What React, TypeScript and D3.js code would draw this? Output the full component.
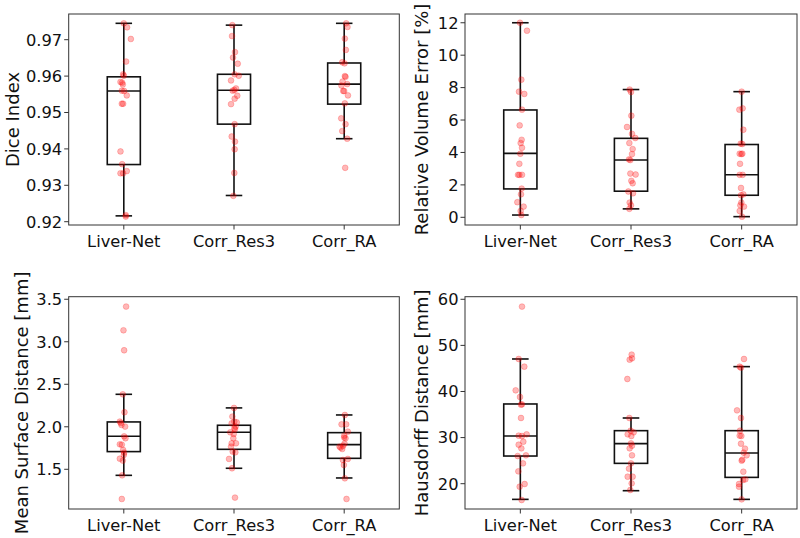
import React from "react";
import * as d3 from "d3";

const categories = ["Liver-Net", "Corr_Res3", "Corr_RA"];

// ---- Dice Index ----
const diceLiverNet = [0.9745, 0.9734, 0.9702, 0.964, 0.9605, 0.9601, 0.9584, 0.9582, 0.9577, 0.956, 0.9559, 0.9547, 0.9524, 0.9524, 0.9393, 0.9358, 0.9333, 0.9333, 0.9339, 0.9218, 0.9214];
const diceLiverNetJit = [0, 0.03, 0.064, 0.021, -0.006, 0, -0.03, -0.015, -0.009, -0.018, 0.003, 0.027, -0.018, -0.006, -0.03, -0.015, -0.03, -0.006, 0.027, 0.018, 0.018];
const diceRes3 = [0.974, 0.971, 0.9666, 0.9651, 0.9634, 0.9605, 0.9601, 0.9588, 0.9566, 0.9562, 0.956, 0.9546, 0.9538, 0.9523, 0.9468, 0.9434, 0.942, 0.9399, 0.9334, 0.9271];
const diceRes3Jit = [-0.015, -0.018, 0.009, -0.009, 0.034, 0.006, 0.043, -0.027, 0.018, 0.003, -0.012, 0.03, 0.006, -0.027, 0.006, -0.021, 0.009, 0.006, 0.003, -0.006];
const diceRA = [0.9745, 0.9735, 0.9703, 0.9672, 0.9638, 0.9635, 0.96, 0.9598, 0.9585, 0.9578, 0.9574, 0.9559, 0.9559, 0.9547, 0.9525, 0.9484, 0.9468, 0.9449, 0.9428, 0.9348];
const diceRAJit = [0.018, 0.03, 0.006, 0.015, -0.018, 0.003, 0.006, 0.012, -0.015, 0.027, -0.025, -0.009, 0, 0.034, 0.006, -0.027, 0.012, -0.018, 0.027, 0.009];
// box stats: [lower whisker, q1, median, q3, upper whisker]
const diceBoxes = [
  [0.9216, 0.9357, 0.9559, 0.9598, 0.9745],
  [0.9272, 0.9468, 0.9561, 0.9605, 0.974],
  [0.9428, 0.9523, 0.9578, 0.9636, 0.9745],
];
const diceTicks = [0.92, 0.93, 0.94, 0.95, 0.96, 0.97];

// ---- Relative Volume Error ----
const rveLiverNet = [12.0, 11.51, 8.49, 7.75, 7.61, 6.64, 5.67, 4.78, 4.58, 4.29, 3.92, 3.3, 2.62, 2.62, 2.62, 1.77, 1.42, 0.93, 0.66, 0.39, 0.14];
const rveLiverNetJit = [-0.003, 0.06, 0.009, -0.012, 0.036, 0.015, -0.006, 0.012, 0.003, 0.015, 0, -0.009, -0.021, -0.009, 0.015, 0.012, 0.006, -0.027, 0.03, 0.003, 0.009];
const rveRes3 = [7.88, 7.73, 6.27, 5.57, 5.15, 4.89, 4.58, 4.21, 3.9, 3.57, 3.53, 2.7, 2.64, 2.25, 2.1, 1.59, 1.48, 0.91, 0.74, 0.52];
const rveRes3Jit = [-0.012, 0, 0.003, -0.036, 0.009, 0.039, -0.015, 0.015, 0.009, -0.018, -0.006, -0.006, 0.042, 0.003, 0.015, -0.024, 0.018, -0.012, 0, -0.015];
const rveRA = [7.75, 6.64, 6.72, 5.4, 4.54, 4.52, 3.92, 3.92, 3.9, 3.3, 2.62, 2.62, 1.81, 1.42, 1.36, 0.91, 0.74, 0.66, 0.39, 0.04];
const rveRAJit = [0, -0.021, 0.009, 0.015, -0.009, 0.006, -0.018, 0.006, -0.003, -0.015, -0.018, 0.009, -0.006, 0.015, -0.006, -0.003, -0.012, 0.021, -0.018, 0.003];
const rveBoxes = [
  [0.14, 1.75, 3.94, 6.62, 12.0],
  [0.52, 1.61, 3.53, 4.87, 7.88],
  [0.04, 1.36, 2.62, 4.49, 7.75],
];
const rveTicks = [0, 2, 4, 6, 8, 10, 12];

// ---- Mean Surface Distance ----
const msdLiverNet = [3.414, 3.135, 2.9, 2.382, 2.171, 2.061, 2.045, 2.022, 2.002, 1.888, 1.865, 1.794, 1.79, 1.727, 1.696, 1.669, 1.625, 1.602, 1.429, 1.151];
const msdLiverNetJit = [0.021, -0.003, 0.003, -0.009, 0.006, -0.036, -0.027, -0.021, 0.012, 0.003, 0.015, -0.036, -0.018, -0.006, 0.003, 0, -0.036, -0.009, -0.015, -0.018];
const msdRes3 = [2.222, 2.12, 2.061, 2.053, 2.041, 2.002, 1.982, 1.971, 1.935, 1.916, 1.865, 1.806, 1.806, 1.767, 1.708, 1.7, 1.622, 1.512, 1.167];
const msdRes3Jit = [0, -0.015, 0.003, 0.025, -0.021, 0.015, 0.003, 0.009, -0.034, -0.003, -0.006, -0.021, 0.018, -0.027, -0.012, 0.012, -0.045, -0.018, 0.009];
const msdRA = [2.139, 2.029, 2.029, 1.943, 1.896, 1.873, 1.865, 1.802, 1.778, 1.767, 1.755, 1.739, 1.622, 1.61, 1.551, 1.394, 1.151];
const msdRAJit = [0.006, -0.024, 0.018, 0.033, 0, 0, 0.012, 0.003, -0.009, -0.042, -0.033, -0.018, 0.033, -0.012, -0.003, 0.006, 0.021];
const msdBoxes = [
  [1.429, 1.708, 1.888, 2.057, 2.382],
  [1.512, 1.735, 1.935, 2.018, 2.222],
  [1.398, 1.629, 1.79, 1.931, 2.139],
];
const msdTicks = [1.5, 2.0, 2.5, 3.0, 3.5];

// ---- Hausdorff Distance ----
const hdLiverNet = [58.41, 47.05, 45.39, 40.25, 38.81, 37.14, 37.21, 34.25, 30.42, 30.71, 30.34, 28.46, 29.11, 27.67, 26.15, 26.0, 24.41, 22.68, 19.93, 19.35, 16.46];
const hdLiverNetJit = [0.015, -0.015, 0.036, -0.042, -0.003, 0.006, 0.015, 0.006, -0.015, 0.057, 0.015, -0.015, 0.027, 0.009, 0.051, -0.024, 0.024, -0.018, 0.039, -0.006, 0.012];
const hdRes3 = [48.0, 46.91, 47.2, 42.71, 34.25, 31.5, 30.71, 31.14, 30.34, 28.75, 28.25, 27.67, 26.15, 24.41, 23.26, 21.52, 21.52, 20.07, 18.63];
const hdRes3Jit = [0.006, -0.012, 0.009, -0.033, -0.015, -0.003, -0.03, 0.024, 0.003, 0, 0.009, -0.012, 0.009, 0, -0.018, -0.03, 0.015, 0.006, -0.006];
const hdRA = [47.05, 45.17, 45.39, 35.91, 34.25, 31.5, 30.42, 30.34, 28.68, 27.6, 26.73, 26.15, 25.21, 25.0, 22.6, 20.94, 20.8, 19.93, 19.35, 16.6];
const hdRAJit = [0.021, -0.006, -0.018, -0.042, -0.006, -0.015, -0.018, -0.003, -0.006, 0.03, 0.018, 0.045, 0.006, 0, 0.015, 0.033, 0.012, -0.024, -0.024, 0];
const hdBoxes = [
  [16.6, 26.0, 30.34, 37.29, 47.05],
  [18.48, 24.41, 28.68, 31.5, 34.25],
  [16.6, 21.37, 26.65, 31.5, 45.39],
];
const hdTicks = [20, 30, 40, 50, 60];

const FONT = "DejaVu Sans, sans-serif";
const TICK_FS = 16.3;
const LABEL_FS = 18;

type PanelSpec = {
  label: string;
  domain: [number, number];
  ticks: number[];
  fmt: (v: number) => string;
  values: number[][];
  jitter: number[][];
  boxes: number[][];
  x0: number;
  x1: number;
  y0: number;
  y1: number;
  labelX: number;
};

const panels: PanelSpec[] = [
  {
    label: "Dice Index",
    domain: [0.91909, 0.97706],
    ticks: diceTicks,
    fmt: d3.format(".2f"),
    values: [diceLiverNet, diceRes3, diceRA],
    jitter: [diceLiverNetJit, diceRes3Jit, diceRAJit],
    boxes: diceBoxes,
    x0: 68.7, x1: 399.3, y0: 14, y1: 225, labelX: 19,
  },
  {
    label: "Relative Volume Error [%]",
    domain: [-0.475, 12.54],
    ticks: rveTicks,
    fmt: d3.format("d"),
    values: [rveLiverNet, rveRes3, rveRA],
    jitter: [rveLiverNetJit, rveRes3Jit, rveRAJit],
    boxes: rveBoxes,
    x0: 465, x1: 797, y0: 14, y1: 225, labelX: 428,
  },
  {
    label: "Mean Surface Distance [mm]",
    domain: [1.033, 3.53],
    ticks: msdTicks,
    fmt: d3.format(".1f"),
    values: [msdLiverNet, msdRes3, msdRA],
    jitter: [msdLiverNetJit, msdRes3Jit, msdRAJit],
    boxes: msdBoxes,
    x0: 68.7, x1: 399.3, y0: 296.7, y1: 509, labelX: 27.5,
  },
  {
    label: "Hausdorff Distance [mm]",
    domain: [14.51, 60.56],
    ticks: hdTicks,
    fmt: d3.format("d"),
    values: [hdLiverNet, hdRes3, hdRA],
    jitter: [hdLiverNetJit, hdRes3Jit, hdRAJit],
    boxes: hdBoxes,
    x0: 465, x1: 797, y0: 296.7, y1: 509, labelX: 428,
  },
];

function Panel({ p }: { p: PanelSpec }) {
  const x = d3.scaleLinear().domain([0.5, 3.5]).range([p.x0, p.x1]);
  const y = d3.scaleLinear().domain(p.domain).range([p.y1, p.y0]);
  const tickLen = 4.5;
  const boxHalf = 0.15;
  const capHalf = 0.075;
  const lineColor = "#111";
  const lw = 1.6;
  return (
    <g>
      {p.boxes.map((b, i) => {
        const c = i + 1;
        const [lo, q1, med, q3, hi] = b;
        return (
          <g key={"b" + i} stroke={lineColor} strokeWidth={lw} fill="none">
            <rect x={x(c - boxHalf)} y={y(q3)} width={x(c + boxHalf) - x(c - boxHalf)} height={y(q1) - y(q3)} />
            <line x1={x(c - boxHalf)} x2={x(c + boxHalf)} y1={y(med)} y2={y(med)} />
            <line x1={x(c)} x2={x(c)} y1={y(q1)} y2={y(lo)} />
            <line x1={x(c)} x2={x(c)} y1={y(q3)} y2={y(hi)} />
            <line x1={x(c - capHalf)} x2={x(c + capHalf)} y1={y(lo)} y2={y(lo)} />
            <line x1={x(c - capHalf)} x2={x(c + capHalf)} y1={y(hi)} y2={y(hi)} />
          </g>
        );
      })}
      {p.values.map((vals, i) =>
        vals.map((v, j) => (
          <circle
            key={"p" + i + "-" + j}
            cx={x(i + 1 + p.jitter[i][j])}
            cy={y(v)}
            r={2.9}
            fill="red"
            fillOpacity={0.28}
            stroke="red"
            strokeOpacity={0.28}
            strokeWidth={0.8}
          />
        ))
      )}
      <rect x={p.x0} y={p.y0} width={p.x1 - p.x0} height={p.y1 - p.y0} fill="none" stroke="#333" strokeWidth={1} />
      {p.ticks.map((t) => (
        <g key={"yt" + t}>
          <line x1={p.x0 - tickLen} x2={p.x0} y1={y(t)} y2={y(t)} stroke="#333" strokeWidth={1} />
          <text x={p.x0 - 6.5} y={y(t)} dy="0.36em" textAnchor="end" fontSize={TICK_FS} fontFamily={FONT} fill="#111">
            {p.fmt(t)}
          </text>
        </g>
      ))}
      {categories.map((c, i) => (
        <g key={"xt" + c}>
          <line x1={x(i + 1)} x2={x(i + 1)} y1={p.y1} y2={p.y1 + tickLen} stroke="#333" strokeWidth={1} />
          <text x={x(i + 1)} y={p.y1 + 21.5} textAnchor="middle" fontSize={TICK_FS} fontFamily={FONT} fill="#111">
            {c}
          </text>
        </g>
      ))}
      <text
        transform={`translate(${p.labelX},${(p.y0 + p.y1) / 2}) rotate(-90)`}
        textAnchor="middle"
        fontSize={LABEL_FS}
        fontFamily={FONT}
        fill="#111"
      >
        {p.label}
      </text>
    </g>
  );
}

export default function App() {
  return (
    <svg
      width={800}
      height={538}
      viewBox="0 0 800 538"
      style={{ position: "absolute", left: 0, top: 0, background: "#fff" }}
    >
      <rect x={0} y={0} width={800} height={538} fill="#fff" />
      {panels.map((p) => (
        <Panel key={p.label} p={p} />
      ))}
    </svg>
  );
}
